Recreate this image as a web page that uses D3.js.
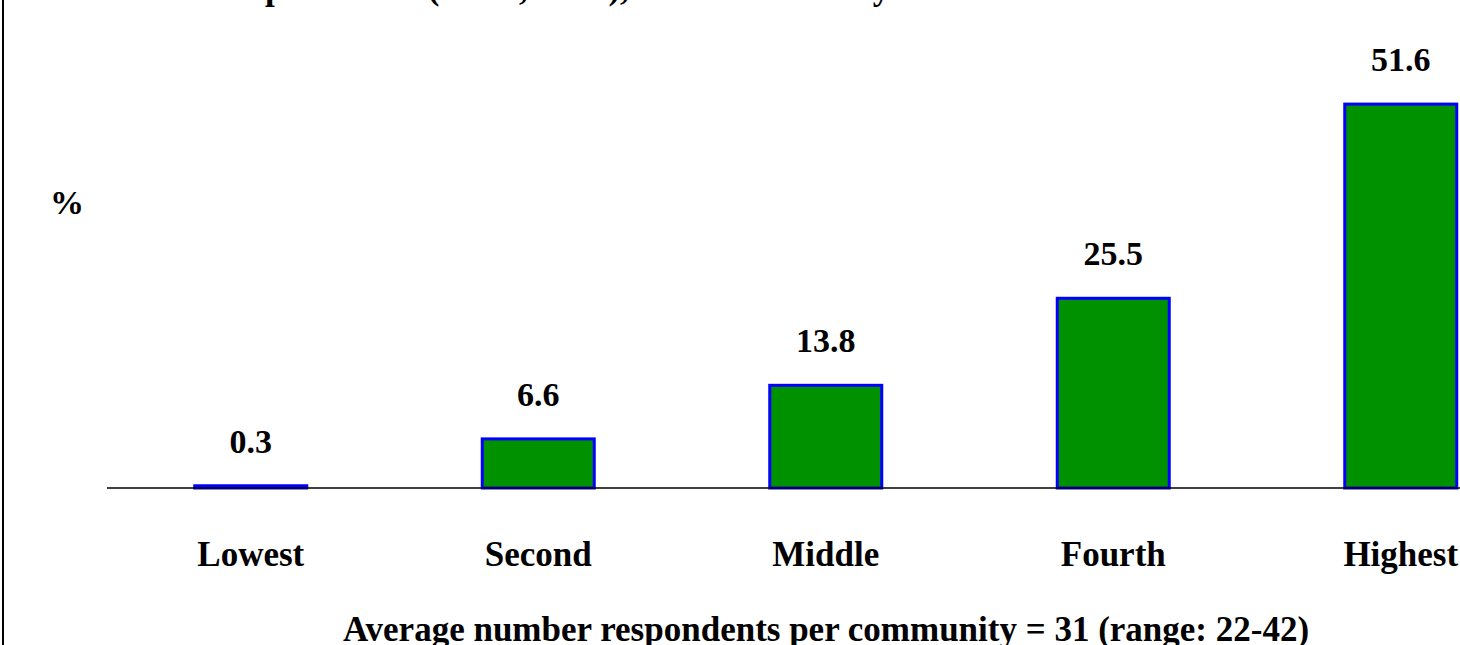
<!DOCTYPE html>
<html>
<head>
<meta charset="utf-8">
<script src="https://cdn.jsdelivr.net/npm/d3@7/dist/d3.min.js"></script>
<style>
  html, body { margin: 0; padding: 0; background: #ffffff; }
  svg { display: block; }
  text { font-family: "Liberation Serif", "Times New Roman", serif; font-weight: bold; fill: #000; }
</style>
</head>
<body>
<svg id="chart" width="1460" height="645"></svg>
<script>
// Data
const categories = ["Lowest", "Second", "Middle", "Fourth", "Highest"];
const values = [0.3, 6.6, 13.8, 25.5, 51.6];
const valueLabels = ["0.3", "6.6", "13.8", "25.5", "51.6"];
const titleText = "Example cluster (Lima, Peru), the most wealthy";
const yLabel = "%";
const noteText = "Average number respondents per community = 31 (range: 22-42)";

const svg = d3.select("#chart");
const W = 1460, H = 645;

const x = d3.scaleBand()
  .domain(categories)
  .range([107, 107 + 5 * 287.5])
  .paddingInner(0.6)
  .paddingOuter(0.3);

const y = d3.scaleLinear()
  .domain([0, 60])
  .range([488, 488 - 60 * 7.44]);

// left border
svg.append("line")
  .attr("x1", 3).attr("x2", 3)
  .attr("y1", 0).attr("y2", H)
  .attr("stroke", "#000").attr("stroke-width", 2);

// title (mostly above the visible area, as in the reference)
const title = svg.append("text")
  .attr("x", 0).attr("y", -1)
  .attr("font-size", 35)
  .text(titleText);
const pIdx = titleText.indexOf("p");
const pPos = title.node().getStartPositionOfChar(pIdx).x;
title.attr("x", 265 - pPos);

// bars
svg.selectAll("rect.bar")
  .data(values)
  .enter().append("rect")
  .attr("class", "bar")
  .attr("x", (d, i) => x(categories[i]) + 1.5)
  .attr("width", x.bandwidth() - 3)
  .attr("y", d => y(d))
  .attr("height", d => y(0) - y(d))
  .attr("fill", "#009100")
  .attr("stroke", "#0000ff")
  .attr("stroke-width", 3);

// baseline axis
const xAxis = d3.axisBottom(x).tickSize(0).tickPadding(0).tickFormat("");
const axisG = svg.append("g")
  .attr("transform", `translate(0,${y(0)})`)
  .call(xAxis);
axisG.select(".domain").remove();
axisG.append("line")
  .attr("x1", 107).attr("x2", W)
  .attr("y1", 0).attr("y2", 0)
  .attr("stroke", "#000").attr("stroke-width", 1.5);

// category labels
svg.selectAll("text.cat")
  .data(categories)
  .enter().append("text")
  .attr("class", "cat")
  .attr("x", d => x(d) + x.bandwidth() / 2)
  .attr("y", 566)
  .attr("text-anchor", "middle")
  .attr("font-size", 35)
  .text(d => d);

// value labels
svg.selectAll("text.val")
  .data(values)
  .enter().append("text")
  .attr("class", "val")
  .attr("x", (d, i) => x(categories[i]) + x.bandwidth() / 2)
  .attr("y", d => y(d) - 33)
  .attr("text-anchor", "middle")
  .attr("font-size", 34)
  .text((d, i) => valueLabels[i]);

// y label
svg.append("text")
  .attr("x", 67).attr("y", 214)
  .attr("text-anchor", "middle")
  .attr("font-size", 34)
  .text(yLabel);

// bottom note
svg.append("text")
  .attr("x", 826).attr("y", 641)
  .attr("text-anchor", "middle")
  .attr("font-size", 35)
  .text(noteText);
</script>
</body>
</html>
